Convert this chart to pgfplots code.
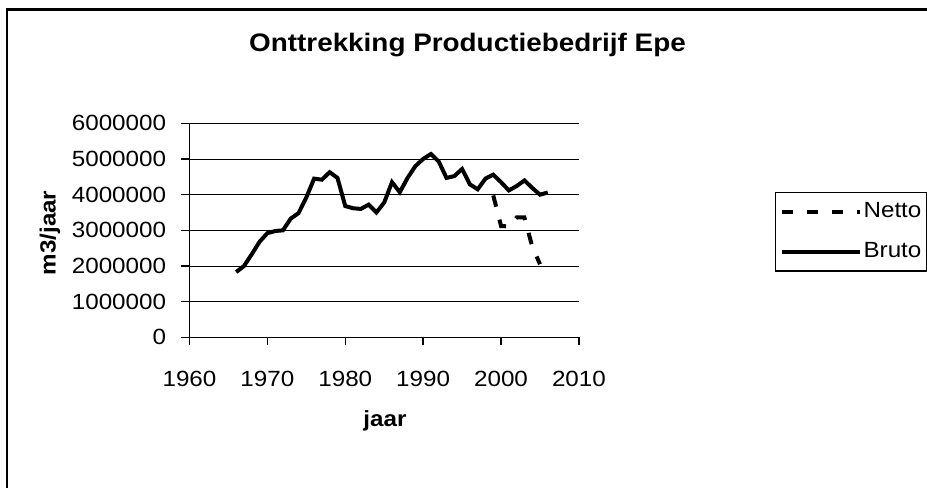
\documentclass[border=0pt]{standalone}
\usepackage{fontspec}
\setmainfont{Liberation Sans}[FakeStretch=1.1]
\usepackage{pgfplots}
\pgfplotsset{compat=1.18}
\begin{document}
\begin{tikzpicture}
\useasboundingbox (0,0) rectangle (695.25pt,366pt);
\fill[white] (0,0) rectangle (695.25pt,366pt);
\draw[line width=1.7pt] (5.25pt,-3pt) -- (5.25pt,358.9pt) -- (699pt,358.9pt);
\begin{axis}[
  at={(142.1pt,113pt)}, anchor=south west, scale only axis,
  width=292.1pt, height=160.5pt,
  xmin=1960, xmax=2010, ymin=0, ymax=6000000,
  axis x line*=bottom, axis y line*=left,
  axis line style={black, line width=1pt, -},
  xtick={1960,1970,...,2010},
  ytick={0,1000000,2000000,3000000,4000000,5000000,6000000},
  ymajorgrids, grid style={black, line width=0.6pt},
  tick align=outside, major tick length=6pt,
  tick style={black, line width=1pt},
  scaled y ticks=false,
  /pgf/number format/fixed,
  /pgf/number format/1000 sep={},
  /pgf/number format/assume math mode=true,
  tick label style={font=\fontsize{16.5}{19}\selectfont},
  xticklabel style={yshift=-16pt},
  yticklabel style={xshift=-8pt},
  legend style={at={(1.503,0.680)}, anchor=north west, draw=black, line width=1.1pt,
    font=\fontsize{16.5}{19}\selectfont, inner xsep=3pt, inner ysep=5.75pt,
    row sep=12.5pt, nodes={inner sep=1pt, text height=12pt, text depth=3.5pt}},
  legend cell align=left,
  legend image code/.code={\draw[#1] (0pt,0pt) -- (59pt,0pt);},
]
\addplot[black, line width=3pt, dash pattern=on 8.75pt off 10pt] coordinates {
(1999,3980000) (2000,3120000) (2001,3110000) (2002,3360000)
(2003,3360000) (2004,2550000) (2005,2050000)
};
\addlegendentry{Netto}
\addplot[black, line width=3pt] coordinates {
(1966,1830000) (1967,2000000) (1968,2330000) (1969,2680000) (1970,2920000)
(1971,2980000) (1972,3000000) (1973,3330000) (1974,3480000) (1975,3920000)
(1976,4450000) (1977,4420000) (1978,4630000) (1979,4470000) (1980,3680000)
(1981,3620000) (1982,3600000) (1983,3720000) (1984,3500000) (1985,3780000)
(1986,4350000) (1987,4070000) (1988,4470000) (1989,4800000) (1990,5000000)
(1991,5140000) (1992,4930000) (1993,4470000) (1994,4520000) (1995,4720000)
(1996,4290000) (1997,4150000) (1998,4450000) (1999,4560000) (2000,4350000)
(2001,4120000) (2002,4240000) (2003,4400000) (2004,4190000) (2005,4000000)
(2006,4060000)
};
\addlegendentry{Bruto}
\end{axis}
\node[anchor=base, font=\fontsize{19}{23}\selectfont\bfseries] at (350.6pt,327pt) {Onttrekking Productiebedrijf Epe};
\node[anchor=center, rotate=90, font=\fontsize{16.5}{20}\selectfont\bfseries] at (37.5pt,191.25pt) {m3/jaar};
\node[anchor=base, font=\fontsize{16.5}{20}\selectfont\bfseries] at (288.75pt,45.75pt) {jaar};
\end{tikzpicture}
\end{document}
